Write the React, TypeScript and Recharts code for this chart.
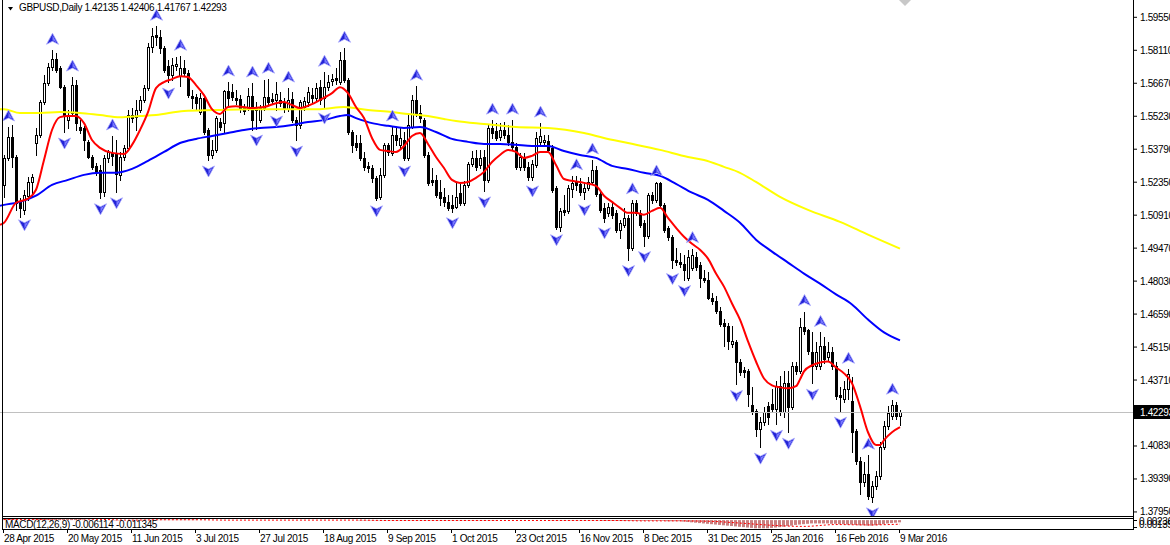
import { ComposedChart, Bar, Line, Scatter, XAxis, YAxis, ReferenceLine } from 'recharts';

const FONT = '"Liberation Sans", Arial, sans-serif';
const TEXT = { fontFamily: FONT, fontSize: 10, letterSpacing: -0.35 };

const SYMBOL = 'GBPUSD,Daily';
const LAST_BAR = [1.42135, 1.42406, 1.41767, 1.42293];
const LAST_PRICE = 1.42293;

// price scale of the main window (top / bottom edge of the plot)
const PRICE_TOP = 1.60306;
const PRICE_BOTTOM = 1.37729;
const PRICE_TICKS = [
  1.5955, 1.5811, 1.5667, 1.5523, 1.5379, 1.5235, 1.5091, 1.4947, 1.4803, 1.4659, 1.4515, 1.4371, 1.4083,
  1.3939, 1.3795,
];

const DATE_BARS = [0, 16, 32, 48, 64, 80, 96, 112, 128, 144, 160, 176, 192, 208, 224];
const DATE_LABELS = [
  '28 Apr 2015', '20 May 2015', '11 Jun 2015', '3 Jul 2015', '27 Jul 2015', '18 Aug 2015', '9 Sep 2015',
  '1 Oct 2015', '23 Oct 2015', '16 Nov 2015', '8 Dec 2015', '31 Dec 2015', '25 Jan 2016', '16 Feb 2016',
  '9 Mar 2016',
];

// daily bars: [open, high, low, close]
const CANDLES: [number, number, number, number][] = [
  [1.5223, 1.5354, 1.5171, 1.5341], [1.5341, 1.5476, 1.5332, 1.5432], [1.5432, 1.5485, 1.5302, 1.5345],
  [1.5345, 1.5354, 1.5114, 1.5145], [1.5149, 1.5167, 1.5084, 1.5123], [1.5114, 1.5202, 1.5097, 1.518],
  [1.5176, 1.5258, 1.5158, 1.5236], [1.5236, 1.5271, 1.5171, 1.5258], [1.5406, 1.5472, 1.5354, 1.5441],
  [1.5441, 1.5594, 1.5432, 1.5585], [1.5585, 1.5702, 1.5576, 1.5668], [1.5668, 1.5755, 1.5659, 1.5737],
  [1.5737, 1.5811, 1.5724, 1.5772], [1.5772, 1.5798, 1.5715, 1.5724], [1.5733, 1.5742, 1.5646, 1.565],
  [1.565, 1.5659, 1.5454, 1.5528], [1.5506, 1.555, 1.5472, 1.5528], [1.5536, 1.5694, 1.5528, 1.5659],
  [1.5659, 1.5681, 1.5463, 1.5493], [1.5476, 1.5506, 1.545, 1.5463], [1.5472, 1.5481, 1.5376, 1.5419],
  [1.5411, 1.5419, 1.5341, 1.5345], [1.5345, 1.5354, 1.5293, 1.5302], [1.5306, 1.5319, 1.5267, 1.528],
  [1.5289, 1.531, 1.5167, 1.5193], [1.5193, 1.5354, 1.5176, 1.5341], [1.5341, 1.5376, 1.5323, 1.5367],
  [1.5363, 1.5437, 1.531, 1.535], [1.5363, 1.5419, 1.5193, 1.5271], [1.5267, 1.5367, 1.5245, 1.5345],
  [1.5345, 1.5398, 1.5332, 1.5385], [1.5385, 1.555, 1.5376, 1.5528], [1.5528, 1.5559, 1.5498, 1.5515],
  [1.5519, 1.5594, 1.5463, 1.555], [1.555, 1.5611, 1.5541, 1.5594], [1.5594, 1.5659, 1.5585, 1.5646],
  [1.5646, 1.5842, 1.5637, 1.5824], [1.5824, 1.5907, 1.5803, 1.5872], [1.5877, 1.5916, 1.5833, 1.5868],
  [1.5868, 1.5898, 1.5798, 1.582], [1.582, 1.5829, 1.5715, 1.5724], [1.5742, 1.5768, 1.5672, 1.5702],
  [1.5702, 1.5776, 1.5681, 1.5746], [1.5742, 1.5781, 1.5724, 1.575], [1.5698, 1.5785, 1.5654, 1.5733],
  [1.5733, 1.5768, 1.5698, 1.5711], [1.5711, 1.5724, 1.5607, 1.5615], [1.5611, 1.5637, 1.5559, 1.5602],
  [1.5607, 1.562, 1.555, 1.558], [1.5541, 1.5624, 1.5533, 1.5602], [1.5602, 1.5615, 1.5445, 1.5454],
  [1.5463, 1.5472, 1.5332, 1.5354], [1.5354, 1.5419, 1.5341, 1.5376], [1.5376, 1.5524, 1.5367, 1.5515],
  [1.5498, 1.5515, 1.5463, 1.5476], [1.5493, 1.5637, 1.545, 1.5633], [1.5633, 1.5672, 1.5572, 1.5602],
  [1.5628, 1.5663, 1.5594, 1.5607], [1.5602, 1.5637, 1.5576, 1.5594], [1.5598, 1.5615, 1.5541, 1.5554],
  [1.5563, 1.5576, 1.5533, 1.5546], [1.5559, 1.5646, 1.555, 1.5611], [1.5611, 1.5668, 1.5463, 1.5506],
  [1.5563, 1.5585, 1.5467, 1.555], [1.5506, 1.5572, 1.5498, 1.5559], [1.5559, 1.5681, 1.555, 1.5607],
  [1.5607, 1.5685, 1.5572, 1.5585], [1.5598, 1.5624, 1.5576, 1.5589], [1.5594, 1.5672, 1.555, 1.562],
  [1.5594, 1.5628, 1.5567, 1.558], [1.558, 1.5602, 1.5541, 1.5554], [1.5554, 1.5646, 1.5546, 1.5594],
  [1.5598, 1.5628, 1.5498, 1.5506], [1.5506, 1.5519, 1.5419, 1.5485], [1.5485, 1.5594, 1.5472, 1.5585],
  [1.5563, 1.5607, 1.555, 1.5589], [1.5585, 1.565, 1.5567, 1.5628], [1.5615, 1.5646, 1.558, 1.5602],
  [1.5602, 1.5668, 1.5594, 1.5646], [1.565, 1.5681, 1.5576, 1.5594], [1.5602, 1.5715, 1.5563, 1.565],
  [1.565, 1.5702, 1.5637, 1.5672], [1.5676, 1.5707, 1.5659, 1.5685], [1.5689, 1.5733, 1.5663, 1.5681],
  [1.5672, 1.5803, 1.5663, 1.5768], [1.5768, 1.582, 1.5672, 1.5681], [1.5681, 1.5689, 1.5445, 1.5454],
  [1.5454, 1.5463, 1.5367, 1.5398], [1.5406, 1.5441, 1.5376, 1.5389], [1.5406, 1.5441, 1.5332, 1.5341],
  [1.5341, 1.5367, 1.5289, 1.5302], [1.5306, 1.5323, 1.528, 1.5297], [1.5297, 1.531, 1.5236, 1.5254],
  [1.5254, 1.5263, 1.5158, 1.5167], [1.5171, 1.5297, 1.5163, 1.5267], [1.5267, 1.5406, 1.5258, 1.5398],
  [1.5398, 1.5406, 1.5354, 1.5367], [1.5363, 1.5476, 1.5354, 1.5441], [1.5441, 1.5472, 1.5398, 1.5419],
  [1.5398, 1.5472, 1.5385, 1.5428], [1.5419, 1.5454, 1.5332, 1.5341], [1.5341, 1.5528, 1.5332, 1.5485],
  [1.5476, 1.5615, 1.5472, 1.5594], [1.5594, 1.5654, 1.5524, 1.5536], [1.5536, 1.5572, 1.5498, 1.5515],
  [1.5506, 1.5515, 1.5345, 1.5354], [1.5354, 1.5367, 1.5223, 1.5232], [1.5245, 1.5297, 1.5223, 1.5236],
  [1.5245, 1.5267, 1.5171, 1.518], [1.5193, 1.5245, 1.5136, 1.5167], [1.5171, 1.521, 1.5132, 1.5149],
  [1.5149, 1.518, 1.5114, 1.5123], [1.5136, 1.518, 1.5106, 1.5123], [1.5127, 1.5236, 1.5123, 1.5171],
  [1.5189, 1.5236, 1.5136, 1.5145], [1.5145, 1.5241, 1.5136, 1.5223], [1.5223, 1.5323, 1.5215, 1.5315],
  [1.5315, 1.5371, 1.5306, 1.5341], [1.5341, 1.5376, 1.5289, 1.5302], [1.531, 1.5376, 1.5297, 1.5341],
  [1.5345, 1.5376, 1.5197, 1.5245], [1.5245, 1.5489, 1.5236, 1.5472], [1.5472, 1.5506, 1.5428, 1.545],
  [1.5459, 1.5493, 1.5419, 1.5428], [1.5432, 1.5493, 1.5419, 1.5463], [1.5463, 1.5498, 1.5428, 1.5441],
  [1.5441, 1.5485, 1.5398, 1.5411], [1.5411, 1.5506, 1.5376, 1.5389], [1.5389, 1.5406, 1.5293, 1.5302],
  [1.5302, 1.5363, 1.5289, 1.5345], [1.5341, 1.5363, 1.5289, 1.5302], [1.5302, 1.5323, 1.5245, 1.5258],
  [1.5258, 1.5332, 1.5245, 1.5315], [1.531, 1.5454, 1.5302, 1.5428], [1.5411, 1.5493, 1.5398, 1.5437],
  [1.5411, 1.5441, 1.5393, 1.5419], [1.5415, 1.5441, 1.5367, 1.5376], [1.5385, 1.5398, 1.5193, 1.5202],
  [1.521, 1.5219, 1.5032, 1.504], [1.504, 1.5123, 1.5023, 1.511], [1.5114, 1.518, 1.5093, 1.5106],
  [1.511, 1.5223, 1.5101, 1.521], [1.5206, 1.5263, 1.5171, 1.5232], [1.5236, 1.5263, 1.5202, 1.5223],
  [1.5228, 1.5254, 1.518, 1.5193], [1.5193, 1.5236, 1.5163, 1.521], [1.521, 1.5258, 1.5202, 1.5236],
  [1.5236, 1.5332, 1.5228, 1.5289], [1.5289, 1.5306, 1.5176, 1.5184], [1.5184, 1.5202, 1.5106, 1.5114],
  [1.5123, 1.5145, 1.5062, 1.5079], [1.5101, 1.5145, 1.5088, 1.5127], [1.5127, 1.5145, 1.5079, 1.5093],
  [1.5101, 1.5114, 1.5019, 1.5027], [1.5027, 1.5071, 1.4993, 1.5058], [1.5049, 1.5123, 1.504, 1.5079],
  [1.5079, 1.5093, 1.4897, 1.4949], [1.4949, 1.5158, 1.494, 1.5145], [1.5145, 1.5158, 1.5093, 1.5101],
  [1.5101, 1.5114, 1.504, 1.5049], [1.5058, 1.5071, 1.4958, 1.5001], [1.5001, 1.5189, 1.4993, 1.518],
  [1.518, 1.5193, 1.5145, 1.5158], [1.5158, 1.5236, 1.5149, 1.5232], [1.5232, 1.5236, 1.5127, 1.5136],
  [1.5136, 1.5145, 1.5019, 1.5027], [1.5036, 1.5045, 1.4984, 1.4997], [1.4997, 1.5006, 1.4862, 1.4897],
  [1.4897, 1.4949, 1.4875, 1.4888], [1.4888, 1.4927, 1.4866, 1.4879], [1.4879, 1.4919, 1.481, 1.4853],
  [1.4818, 1.494, 1.481, 1.491], [1.4862, 1.4945, 1.4853, 1.4919], [1.491, 1.4932, 1.4853, 1.4866],
  [1.4875, 1.4888, 1.4779, 1.4818], [1.4818, 1.4853, 1.4797, 1.481], [1.481, 1.4844, 1.4723, 1.4731],
  [1.4731, 1.4753, 1.4701, 1.4714], [1.4714, 1.4736, 1.4662, 1.4671], [1.4671, 1.4688, 1.4607, 1.4616],
  [1.462, 1.4638, 1.4518, 1.4607], [1.4607, 1.462, 1.4505, 1.454], [1.4527, 1.4605, 1.4514, 1.454],
  [1.4535, 1.4548, 1.4352, 1.4448], [1.4448, 1.4461, 1.4391, 1.4405], [1.4413, 1.4426, 1.4383, 1.4405],
  [1.4409, 1.4418, 1.4257, 1.4309], [1.4261, 1.4339, 1.4222, 1.4235], [1.4235, 1.4243, 1.4126, 1.4156],
  [1.4156, 1.4209, 1.4078, 1.4187], [1.4187, 1.4252, 1.4174, 1.423], [1.4257, 1.4274, 1.4178, 1.4209],
  [1.4265, 1.4331, 1.423, 1.4243], [1.4243, 1.4365, 1.4178, 1.4344], [1.4344, 1.4387, 1.4217, 1.423],
  [1.423, 1.4409, 1.4209, 1.4357], [1.4357, 1.4409, 1.4143, 1.4252], [1.4252, 1.4448, 1.4243, 1.4431],
  [1.4431, 1.4448, 1.4396, 1.4409], [1.4409, 1.4644, 1.44, 1.4601], [1.4601, 1.467, 1.457, 1.4583],
  [1.4588, 1.4592, 1.4483, 1.4496], [1.4492, 1.4579, 1.4357, 1.4431], [1.4431, 1.4535, 1.4418, 1.4492],
  [1.4431, 1.4579, 1.4418, 1.4518], [1.4518, 1.4557, 1.4444, 1.4461], [1.447, 1.4535, 1.4452, 1.4492],
  [1.4492, 1.4514, 1.4418, 1.4431], [1.4431, 1.4448, 1.4287, 1.43], [1.4304, 1.4339, 1.4235, 1.4296],
  [1.4287, 1.4365, 1.4274, 1.4331], [1.4331, 1.4418, 1.4287, 1.4396], [1.4278, 1.4383, 1.4056, 1.4143],
  [1.4148, 1.4156, 1.4004, 1.4017], [1.4017, 1.4035, 1.3873, 1.3926], [1.3926, 1.4013, 1.3908, 1.3961],
  [1.3961, 1.4043, 1.3852, 1.3865], [1.386, 1.393, 1.3839, 1.3908], [1.3908, 1.3974, 1.3895, 1.3952],
  [1.3952, 1.41, 1.3939, 1.4078], [1.4078, 1.4191, 1.4069, 1.4169], [1.4169, 1.4257, 1.4156, 1.4226],
  [1.4213, 1.4283, 1.42, 1.4261], [1.4261, 1.4274, 1.42, 1.4213], [1.42135, 1.42406, 1.41767, 1.42293],
];

// moving averages: [bar, value]; bar -1 is the left edge of the window
const RED_MA: [number, number][] = [
  [-1, 1.5049], [0, 1.5058], [3, 1.5145], [6, 1.5163], [8, 1.5202], [10, 1.5332], [12, 1.5463], [14, 1.5519],
  [16, 1.5524], [18, 1.5524], [20, 1.5493], [22, 1.5419], [24, 1.5385], [27, 1.5363], [30, 1.5358],
  [32, 1.5398], [34, 1.5463], [36, 1.5541], [38, 1.5646], [40, 1.5672], [42, 1.5685], [44, 1.5698],
  [46, 1.5694], [48, 1.5659], [50, 1.5615], [52, 1.5554], [54, 1.5533], [56, 1.5563], [58, 1.5567],
  [60, 1.5563], [62, 1.5559], [65, 1.5563], [68, 1.558], [70, 1.5585], [72, 1.5572], [74, 1.5559],
  [77, 1.5576], [79, 1.5594], [82, 1.5624], [84, 1.565], [86, 1.5624], [88, 1.5563], [90, 1.5515],
  [92, 1.5428], [94, 1.5376], [96, 1.5371], [98, 1.5367], [100, 1.5393], [102, 1.5437], [104, 1.545],
  [106, 1.5402], [108, 1.5345], [110, 1.5297], [112, 1.5245], [114, 1.5232], [116, 1.5236], [118, 1.5254],
  [120, 1.528], [122, 1.5323], [124, 1.5354], [126, 1.5376], [128, 1.5367], [130, 1.5341], [132, 1.535],
  [134, 1.5367], [136, 1.5367], [138, 1.531], [140, 1.5249], [142, 1.5241], [145, 1.5232], [148, 1.5219],
  [150, 1.5176], [152, 1.5149], [154, 1.5123], [156, 1.5101], [158, 1.5101], [160, 1.5093], [162, 1.511],
  [164, 1.5123], [166, 1.5079], [168, 1.5036], [170, 1.4997], [172, 1.4966], [174, 1.494], [176, 1.4901],
  [178, 1.4836], [180, 1.4779], [182, 1.4705], [184, 1.4635], [186, 1.454], [188, 1.4452], [190, 1.4378],
  [192, 1.4348], [194, 1.4339], [196, 1.4335], [198, 1.4344], [199, 1.4374], [200, 1.4409], [202, 1.4435],
  [204, 1.4448], [206, 1.4452], [208, 1.4426], [210, 1.44], [212, 1.4357], [214, 1.4257], [216, 1.4143],
  [218, 1.4087], [219, 1.4087], [220, 1.4109], [222, 1.4143], [224, 1.4165],
];

const BLUE_MA: [number, number][] = [
  [-1, 1.5132], [0, 1.5136], [4, 1.5149], [8, 1.5176], [12, 1.5223], [16, 1.5245], [20, 1.5267], [24, 1.5276],
  [28, 1.5276], [32, 1.5293], [36, 1.5328], [40, 1.5367], [44, 1.5406], [48, 1.5424], [52, 1.5437],
  [56, 1.545], [60, 1.5463], [64, 1.5472], [68, 1.5476], [72, 1.5485], [76, 1.5498], [80, 1.5506],
  [84, 1.5524], [86, 1.5528], [88, 1.5515], [92, 1.5493], [96, 1.5481], [100, 1.5472], [104, 1.5476],
  [108, 1.5454], [112, 1.5424], [116, 1.5411], [120, 1.5402], [124, 1.5402], [128, 1.5398], [132, 1.5393],
  [136, 1.5393], [140, 1.5371], [144, 1.5354], [148, 1.5341], [152, 1.5306], [156, 1.5293], [160, 1.5276],
  [164, 1.5263], [168, 1.5228], [172, 1.5189], [176, 1.5158], [180, 1.511], [184, 1.5058], [188, 1.4984],
  [192, 1.4932], [196, 1.4884], [200, 1.4836], [204, 1.4792], [208, 1.4745], [212, 1.4701], [216, 1.4635],
  [220, 1.4579], [224, 1.4544],
];

const YELLOW_MA: [number, number][] = [
  [-1, 1.5554], [0, 1.5554], [4, 1.5537], [9, 1.5537], [14, 1.5541], [19, 1.5537], [24, 1.5528], [29, 1.5519],
  [34, 1.5524], [38, 1.5528], [45, 1.5546], [53, 1.555], [61, 1.5554], [70, 1.5554], [79, 1.5554],
  [85, 1.5563], [91, 1.555], [97, 1.5541], [101, 1.5533], [106, 1.5524], [110, 1.5511], [113, 1.5502],
  [120, 1.5489], [128, 1.5476], [136, 1.5472], [145, 1.545], [150, 1.5428], [156, 1.5406], [164, 1.5376],
  [171, 1.5345], [175, 1.5332], [180, 1.5302], [184, 1.5276], [188, 1.5236], [194, 1.5171], [201, 1.5114],
  [209, 1.5062], [216, 1.5006], [224, 1.4945],
];

// bars carrying a fractal mark
const FRACTAL_UP = [1, 12, 17, 27, 38, 44, 56, 62, 66, 71, 80, 85, 97, 103, 122, 127, 134, 143, 147, 157, 163, 172, 200, 204, 211, 216, 222];
const FRACTAL_DOWN = [5, 15, 24, 28, 41, 51, 63, 68, 73, 80, 93, 100, 112, 120, 132, 138, 145, 150, 156, 160, 167, 170, 183, 189, 193, 196, 202, 209, 217];

// MACD(12,26,9) histogram, in thousandths
const MACD_HIST = [
  3, 3, 3, 2, 1, 1, 1, 1, 2, 3, 4, 5, 6, 7, 7, 7, 6, 6, 6, 5, 2, 1, 1, 0, 0, 0, 0, 0, -1, -1,
  0, 0, 1, 1, 1, 1, 1, 1, 1, 1, 1, 1, 1, 1, 1, 1, 1, 1, 1, 0, 0, 0, 0, 0, 0, 0, 0, 0, 0, 0,
  0, 0, 0, 0, 0, 0, 0, 0, 0, 0, 0, 0, 0, 0, 0, 0, 0, 0, 0, 0, 0, 0, 0, 0, 0, 0, 0, 0, 0, -1,
  -1, -1, -1, -1, -1, -1, -1, -1, -1, -1, -1, -1, -1, -1, -1, -1, -1, -1, -1, -1, -1, -1, -1, -1, -1, -1, -1, -1, -1, -1,
  -1, -1, -1, -1, 0, 0, 0, 0, 0, 0, 0, 0, 0, 0, 0, 0, 0, -1, -1, -1, -1, -1, -1, -1, -1, -1, -1, -1, -1, -1,
  -2, -2, -2, -2, -2, -2, -2, -2, -2, -2, -2, -2, -2, -2, -2, -2, -3, -3, -3, -3, -4, -5, -6, -7, -8, -9, -10, -11, -12, -13,
  -14, -15, -16, -17, -18, -19, -20, -21, -22, -22, -22, -22, -21, -20, -19, -18, -16, -15, -13, -12, -11, -10, -9, -9, -9, -9, -9, -10, -10, -11,
  -11, -12, -12, -13, -14, -14, -15, -15, -14, -13, -11, -9, -8, -7, -6,
];
const MACD_SIGNAL: [number, number][] = [
  [0, 2], [8, 2], [16, 4], [24, 2], [32, 0], [40, 1], [48, 1], [56, 0], [64, 0], [72, 0], [80, 0], [88, 0],
  [96, -1], [104, -1], [112, -1], [120, -1], [128, -1], [136, -1], [144, -1], [152, -1], [160, -2],
  [168, -2], [176, -3], [184, -8], [192, -14], [200, -17], [208, -12], [216, -13], [224, -11],
];

type Row = {
  i: number;
  open?: number;
  high?: number;
  low?: number;
  close?: number;
  range?: [number, number];
  red?: number;
  blue?: number;
  yellow?: number;
};

// row for bar -1 only carries the averages entering the window from the left
const rows: Row[] = [
  { i: -1 },
  ...CANDLES.map(([open, high, low, close], i) => ({ i, open, high, low, close, range: [low, high] as [number, number] })),
];
const rowAt = (b: number) => rows[b + 1];
RED_MA.forEach(([b, v]) => { if (rowAt(b)) rowAt(b).red = v; });
BLUE_MA.forEach(([b, v]) => { if (rowAt(b)) rowAt(b).blue = v; });
YELLOW_MA.forEach(([b, v]) => { if (rowAt(b)) rowAt(b).yellow = v; });

const upPoints = FRACTAL_UP.map((b) => ({ i: b, v: CANDLES[b][1] }));
const downPoints = FRACTAL_DOWN.map((b) => ({ i: b, v: CANDLES[b][2] }));

const macdRows = CANDLES.map((_, i) => ({ i, macd: (MACD_HIST[i] ?? 0) / 1000, sig: undefined as number | undefined }));
MACD_SIGNAL.forEach(([b, v]) => { if (macdRows[b]) macdRows[b].sig = v / 1000; });

const X_DOMAIN: [number, number] = [-1, 282.25];

function Candle(props: any) {
  const { x, y, width, height, payload } = props;
  if (!payload || payload.range == null || !Number.isFinite(y) || !Number.isFinite(height)) return null;
  const { open, close, high, low } = payload as Required<Row>;
  const span = high - low || 1e-9;
  const toY = (v: number) => y + ((high - v) / span) * height;
  const cx = Math.round(x + width / 2) + 0.5;
  const top = Math.round(toY(Math.max(open, close))) + 0.5;
  const bottom = Math.round(toY(Math.min(open, close))) + 0.5;
  const up = close >= open;
  return (
    <g>
      <line x1={cx} x2={cx} y1={Math.round(toY(high))} y2={Math.round(toY(low)) + 1} stroke="#000" strokeWidth={1} />
      <rect x={cx - 1} y={top} width={2} height={Math.max(bottom - top, 0)} fill={up ? '#fff' : '#000'} stroke="#000" strokeWidth={1} />
    </g>
  );
}

function FractalUp(props: any) {
  const { cx, cy } = props;
  if (!Number.isFinite(cy)) return null;
  const x = Math.round(cx) + 0.5;
  const y = cy - 11;
  return (
    <g>
      <path d={`M${x},${y - 6} L${x + 6},${y + 5} L${x},${y + 2} L${x - 6},${y + 5} Z`} fill="#2323d6" stroke="#a8a8ff" strokeWidth={0.8} />
      <path d={`M${x},${y - 4} L${x + 4},${y + 3} L${x},${y + 1} Z`} fill="#7a7aff" />
    </g>
  );
}

function FractalDown(props: any) {
  const { cx, cy } = props;
  if (!Number.isFinite(cy)) return null;
  const x = Math.round(cx) + 0.5;
  const y = cy + 11;
  return (
    <g>
      <path d={`M${x},${y + 6} L${x + 6},${y - 5} L${x},${y - 2} L${x - 6},${y - 5} Z`} fill="#2323d6" stroke="#a8a8ff" strokeWidth={0.8} />
      <path d={`M${x},${y + 4} L${x + 4},${y - 3} L${x},${y - 1} Z`} fill="#7a7aff" />
    </g>
  );
}

function PriceTick(props: any) {
  const { x, y, payload } = props;
  const v: number = payload.value;
  const label = v.toFixed(5);
  if (v === LAST_PRICE) {
    return (
      <g>
        <rect x={1134} y={Math.round(y) - 7} width={36} height={14} fill="#000" />
        <text x={x} y={y + 3.5} fill="#fff" style={TEXT}>{label}</text>
      </g>
    );
  }
  return <text x={x} y={y + 3.5} fill="#000" style={TEXT}>{label}</text>;
}

function DateTick(props: any) {
  const { x, y, payload } = props;
  const k = DATE_BARS.indexOf(payload.value);
  const px = Math.round(x);
  return (
    <g>
      <line x1={px - 0.5} x2={px - 0.5} y1={y} y2={y + 4} stroke="#000" strokeWidth={1} />
      <text x={px} y={y + 13} fill="#000" style={TEXT}>{DATE_LABELS[k]}</text>
    </g>
  );
}

const lineProps = {
  type: 'monotone' as const,
  strokeWidth: 2,
  dot: false,
  activeDot: false,
  connectNulls: true,
  isAnimationActive: false,
};

export default function App() {
  return (
    <div style={{ position: 'absolute', left: 0, top: 0, width: 1170, height: 545, background: '#fff', overflow: 'hidden' }}>
      <svg width={1170} height={20} style={{ position: 'absolute', left: 0, top: 0 }}>
        <polygon points="8,7 13,7 10.5,10.5" fill="#000" />
        <text x={19} y={11} fill="#000" style={TEXT}>
          {`${SYMBOL}  ${LAST_BAR.map((v) => v.toFixed(5)).join(' ')}`}
        </text>
      </svg>

      <div style={{ position: 'absolute', left: 0, top: 0 }}>
        <ComposedChart width={1170} height={517} data={rows} margin={{ top: 0, right: 0, bottom: 0, left: 0 }}>
          <XAxis dataKey="i" type="number" domain={X_DOMAIN} hide allowDataOverflow />
          <YAxis
            orientation="right"
            width={37}
            domain={[PRICE_BOTTOM, PRICE_TOP]}
            ticks={[...PRICE_TICKS, LAST_PRICE]}
            interval={0}
            tickSize={4}
            tickMargin={3}
            tick={PriceTick}
            axisLine={false}
            tickLine={{ stroke: '#000' }}
            allowDataOverflow
          />
          <ReferenceLine y={LAST_PRICE} stroke="#c0c0c0" strokeWidth={1} />
          <Bar dataKey="range" barSize={3} shape={Candle} isAnimationActive={false} />
          <Line dataKey="yellow" stroke="#ffff00" {...lineProps} />
          <Line dataKey="blue" stroke="#0000ff" {...lineProps} />
          <Line dataKey="red" stroke="#ff0000" {...lineProps} />
          <Scatter data={upPoints} dataKey="v" shape={FractalUp} isAnimationActive={false} />
          <Scatter data={downPoints} dataKey="v" shape={FractalDown} isAnimationActive={false} />
        </ComposedChart>
      </div>

      <div style={{ position: 'absolute', left: 0, top: 519 }}>
        <ComposedChart width={1170} height={26} data={macdRows} margin={{ top: 0, right: 0, bottom: 0, left: 0 }}>
          <XAxis
            dataKey="i"
            type="number"
            domain={X_DOMAIN}
            ticks={DATE_BARS}
            interval={0}
            height={16}
            axisLine={false}
            tickLine={false}
            tickSize={0}
            tickMargin={0}
            tick={DateTick}
            allowDataOverflow
          />
          <YAxis orientation="right" width={37} domain={[-0.024, 0.003]} tick={false} axisLine={false} tickLine={false} allowDataOverflow />
          <Bar dataKey="macd" barSize={3} fill="#c98080" isAnimationActive={false} />
          <Line dataKey="sig" type="monotone" stroke="#ff0000" strokeWidth={1} strokeDasharray="2 2" dot={false} activeDot={false} connectNulls isAnimationActive={false} />
        </ComposedChart>
      </div>

      <svg width={1170} height={545} style={{ position: 'absolute', left: 0, top: 0, pointerEvents: 'none' }}>
        <line x1={2.5} x2={2.5} y1={0} y2={530} stroke="#000" />
        <line x1={1133.5} x2={1133.5} y1={0} y2={530} stroke="#000" />
        <line x1={2} x2={1134} y1={516.5} y2={516.5} stroke="#000" />
        <line x1={2} x2={1134} y1={518.5} y2={518.5} stroke="#000" />
        <line x1={2} x2={1134} y1={529.5} y2={529.5} stroke="#000" />
        <polygon points="899,0 911,0 905,6" fill="#c8c8c8" />
        <text x={5} y={527.5} fill="#000" style={TEXT}>MACD(12,26,9) -0.006114 -0.011345</text>
        <text x={1139} y={524.5} fill="#000" style={TEXT}>0.00236</text>
        <text x={1139} y={528} fill="#000" style={TEXT}>0.00135</text>
        <line x1={1134} x2={1137} y1={520.5} y2={520.5} stroke="#000" />
        <line x1={1134} x2={1137} y1={527.5} y2={527.5} stroke="#000" />
      </svg>
    </div>
  );
}
